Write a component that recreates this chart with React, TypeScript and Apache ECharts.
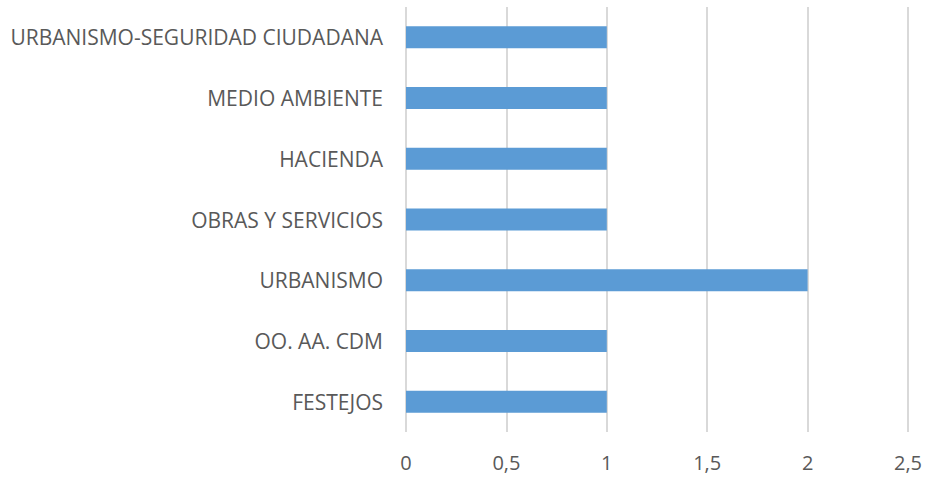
import React, { useEffect, useRef } from "react";
import * as echarts from "echarts";

const categories = [
  "FESTEJOS",
  "OO. AA. CDM",
  "URBANISMO",
  "OBRAS Y SERVICIOS",
  "HACIENDA",
  "MEDIO AMBIENTE",
  "URBANISMO-SEGURIDAD CIUDADANA",
];
const values = [1, 1, 2, 1, 1, 1, 1];

export default function App() {
  const ref = useRef<HTMLDivElement>(null);
  useEffect(() => {
    if (!ref.current) return;
    const chart = echarts.init(ref.current, undefined, { renderer: "svg" });
    chart.setOption({
      animation: false,
      backgroundColor: "#ffffff",
      grid: { left: 406, right: 21, top: 7, bottom: 48, containLabel: false },
      xAxis: {
        type: "value",
        min: 0,
        max: 2.5,
        interval: 0.5,
        axisLine: { show: false },
        axisTick: { show: false },
        splitLine: { show: true, lineStyle: { color: "#d9d9d9", width: 2 } },
        axisLabel: {
          color: "#595959",
          fontSize: 20,
          fontFamily: "Open Sans",
          margin: 20,
          formatter: (v: number) => String(v).replace(".", ","),
        },
      },
      yAxis: {
        type: "category",
        data: categories,
        axisLine: { show: false },
        axisTick: { show: false },
        splitLine: { show: false },
        axisLabel: {
          color: "#595959",
          fontSize: 21,
          fontFamily: "Open Sans",
          margin: 23,
        },
      },
      series: [
        {
          type: "bar",
          data: values,
          barWidth: 22,
          itemStyle: { color: "#5B9BD5" },
        },
      ],
    });
    return () => chart.dispose();
  }, []);
  return (
    <div
      ref={ref}
      style={{ position: "fixed", left: 0, top: 0, width: 929, height: 480 }}
    />
  );
}
